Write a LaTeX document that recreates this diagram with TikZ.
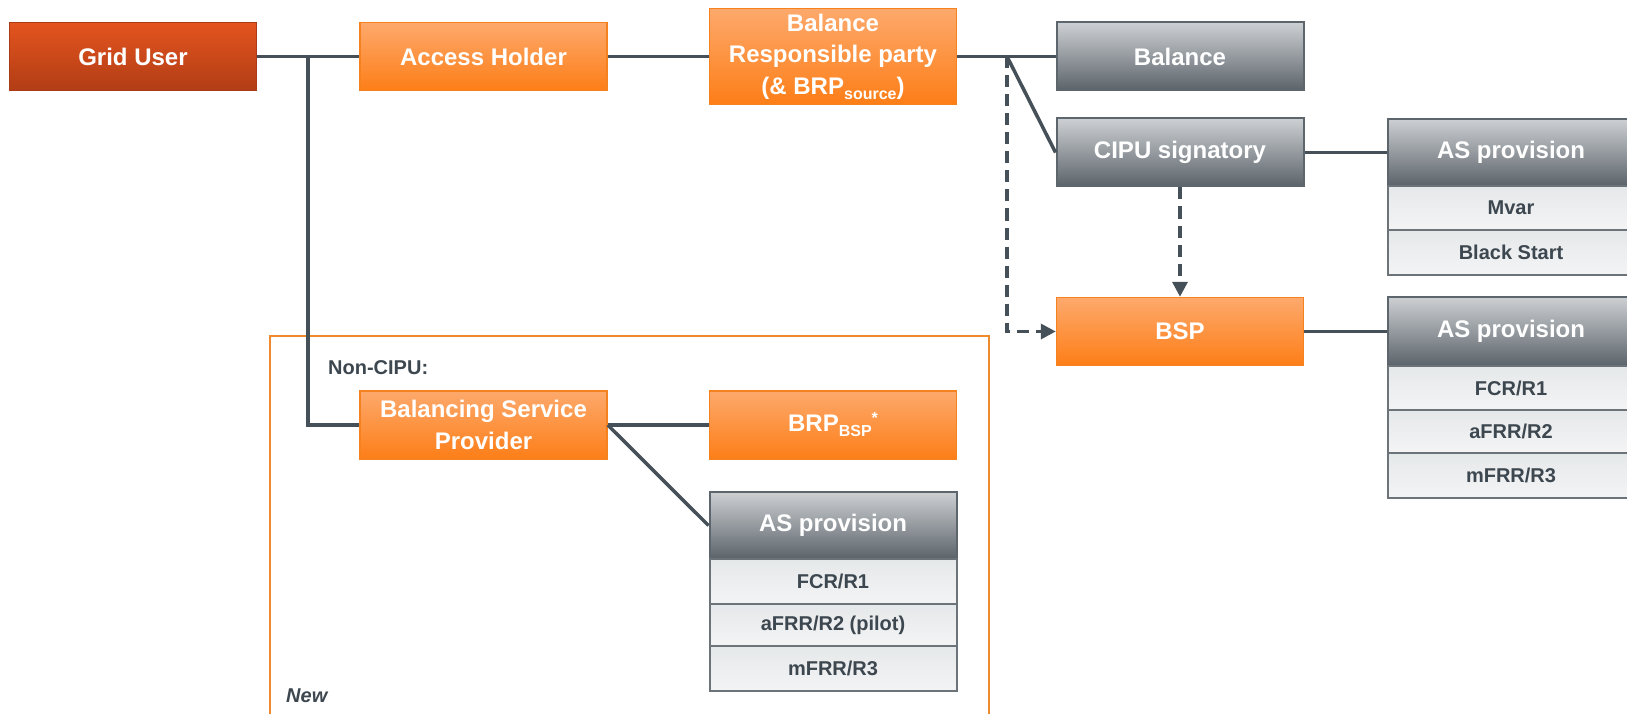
\documentclass[tikz,border=0pt]{standalone}
\usepackage{fontspec}
\setmainfont{Liberation Sans}
\usetikzlibrary{arrows.meta}
\definecolor{orT}{HTML}{FDA96C}
\definecolor{orB}{HTML}{FD7E17}
\definecolor{orD}{HTML}{F5821F}
\definecolor{rdT}{HTML}{E3541F}
\definecolor{rdB}{HTML}{B23D15}
\definecolor{rdD}{HTML}{A93B16}
\definecolor{grT}{HTML}{CDD0D3}
\definecolor{grB}{HTML}{5B636A}
\definecolor{grD}{HTML}{5E666D}
\definecolor{rwT}{HTML}{E5E8EA}
\definecolor{rwB}{HTML}{F4F4F5}
\definecolor{rwD}{HTML}{6C7379}
\definecolor{lnC}{HTML}{455058}
\definecolor{txD}{HTML}{3D474F}
\definecolor{frC}{HTML}{F08A2E}
\newcommand\mybig{\bfseries\fontsize{24}{31.5}\selectfont}
\newcommand\mysmall{\bfseries\fontsize{20}{24}\selectfont}
\newcommand\mysub[1]{\raisebox{-5pt}{\fontsize{16}{16}\selectfont #1}}
\tikzset{
  basebox/.style={rectangle, minimum width=247pt, minimum height=68pt, align=center,
    inner sep=0pt, text=white, font=\mybig},
  orangebox/.style={basebox, top color=orT, bottom color=orB, draw=orD, line width=1.5pt},
  redbox/.style={basebox, top color=rdT, bottom color=rdB, draw=rdD, line width=1.5pt},
  greybox/.style={basebox, top color=grT, bottom color=grB, draw=grD, line width=2pt},
  rowbox/.style={basebox, top color=rwT, bottom color=rwB, draw=rwD, line width=2pt,
    text=txD, font=\mysmall},
  conn/.style={draw=lnC, line width=3.5pt},
  dconn/.style={draw=lnC, line width=3.5pt, dash pattern=on 12pt off 7pt,
    -{Triangle[length=15pt,width=15pt]}},
  frame/.style={draw=frC, line width=2pt},
  plain/.style={anchor=west, text=txD, font=\mysmall, inner sep=0pt}
}
\begin{document}
\begin{tikzpicture}[x=1pt,y=-1pt]
\useasboundingbox (0,0) rectangle (1627,714);
% frame
\draw[frame] (270,730) -- (270,336) -- (989,336) -- (989,730);
% top row
\node[redbox] (grid) at (133,56.5) {Grid User};
\node[orangebox] (ah) at (483.5,56.5) {Access Holder};
\node[orangebox, minimum height=96pt] (brp) at (833,56.5) {Balance\\Responsible party\\(\& BRP\mysub{source})};
\node[greybox] (bal) at (1180,56.5) {Balance};
\node[greybox] (cipu) at (1180,152.5) {CIPU signatory};
\node[orangebox] (bsp) at (1180,331.5) {BSP};
% AS provision 1
\node[greybox, minimum height=67pt] (as1) at (1511,152.5) {AS provision};
\node[rowbox, minimum height=44pt] (mvar) at (1511,208) {Mvar};
\node[rowbox, minimum height=45pt] (bs) at (1511,252.5) {Black Start};
% AS provision 2
\node[greybox, minimum height=69pt] (as2) at (1511,331.5) {AS provision};
\node[rowbox, minimum height=44pt] (fcr2) at (1511,388) {FCR/R1};
\node[rowbox, minimum height=43pt] (afrr2) at (1511,431.5) {aFRR/R2};
\node[rowbox, minimum height=45pt] (mfrr2) at (1511,475.5) {mFRR/R3};
% Non-CIPU part
\node[plain] (noncipu) at (328,368) {Non-CIPU:};
\node[orangebox] (bspp) at (483.5,425) {Balancing Service\\Provider};
\node[orangebox] (brpbsp) at (833,425) {BRP\mysub{BSP}\raisebox{8pt}{\fontsize{16}{16}\selectfont *}};
\node[greybox, minimum height=67pt] (as3) at (833,525.5) {AS provision};
\node[rowbox, minimum height=45pt] (fcr3) at (833,581.5) {FCR/R1};
\node[rowbox, minimum height=42pt] (afrr3) at (833,625) {aFRR/R2 (pilot)};
\node[rowbox, minimum height=45pt] (mfrr3) at (833,668.5) {mFRR/R3};
\node[plain, font=\mysmall\itshape] (new) at (286,696) {New};
% junctions
\coordinate (j1) at (308,56.5);
\coordinate (j2) at (1007,56.5);
% connectors
\draw[conn] (grid.east) -- (ah.west);
\draw[conn] (j1) |- (bspp.west);
\draw[conn] (ah.east) -- (brp.west);
\draw[conn] (brp.east) -- (bal.west);
\draw[conn] (j2) -- (cipu.west);
\draw[dconn] (j2) |- (bsp.west);
\draw[dconn] (cipu.south) -- (bsp.north);
\draw[conn] (cipu.east) -- (as1.west);
\draw[conn] (bsp.east) -- (as2.west);
\draw[conn] (bspp.east) -- (brpbsp.west);
\draw[conn] (bspp.east) -- (as3.west);
\end{tikzpicture}
\end{document}
